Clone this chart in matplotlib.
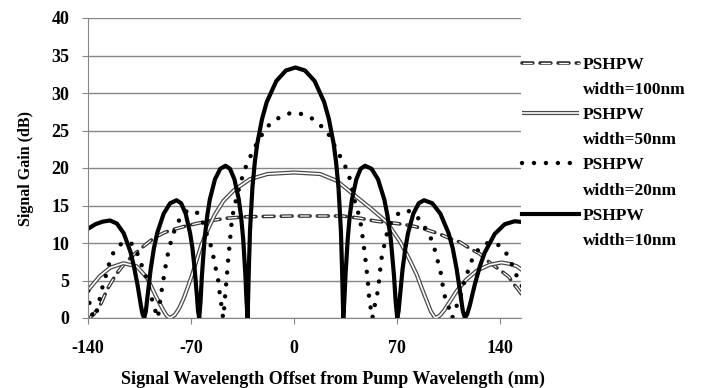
import matplotlib
matplotlib.use("Agg")
import matplotlib.pyplot as plt
from matplotlib.lines import Line2D

plt.rcParams["font.family"] = ["Liberation Serif", "DejaVu Serif"]
plt.rcParams["font.weight"] = "bold"
plt.rcParams["lines.scale_dashes"] = False
plt.rcParams["axes.unicode_minus"] = False

# ---------------------------------------------------------------------------
# Data (signal wavelength offset in nm, gain in dB)
# ---------------------------------------------------------------------------
x100 = [-139, -136, -131, -127, -121, -115, -108, -102, -95, -88, -82, -73,
        -59, -46, -32, 0, 33, 45, 56, 70, 80, 88, 99, 106, 113, 120, 126,
        133, 142, 146, 149, 152, 155]
g100 = [0, 0.5, 2.0, 3.8, 5.8, 7.3, 8.6, 9.6, 10.7, 11.4, 11.8, 12.3,
        12.9, 13.3, 13.5, 13.6, 13.6, 13.3, 12.9, 12.6, 12.3, 11.9, 11.2,
        10.6, 10.1, 9.2, 8.6, 7.4, 6.1, 5.5, 4.6, 3.9, 3.1]

x50 = [-140, -138.7, -131.9, -125, -116, -107, -100, -93.3, -89, -86.5,
       -84.3, -81, -78, -75, -72, -69, -66, -63, -59, -54, -48, -41, -30,
       -18, 0, 17.7, 29, 40.3, 51.7, 63, 72, 78, 83.4, 87, 90.2, 93, 96, 99,
       102, 106, 110.6, 117, 124.2, 133, 141, 147, 151.4, 155]
g50 = [3.6, 4.0, 5.6, 6.7, 7.3, 6.9, 5.4, 2.7, 1.1, 0.3,
       0, 0.4, 1.3, 2.6, 4.2, 5.9, 7.8, 9.7, 11.6, 13.7, 15.6, 17.0, 18.5,
       19.2, 19.4, 19.2, 18.3, 16.5, 14.7, 12.8, 10.2, 8.0, 5.8, 3.9, 2.3,
       0.9, 0, 0.3, 1.0, 2.2, 3.6, 5.1, 6.3, 7.1, 7.4, 7.2, 6.9, 6.4]

x20 = [-140, -139, -137.5, -135.5, -133.5, -131.9, -130.5, -127.8, -124.4,
       -121, -116, -110.8, -107.5, -104.7, -102.4, -100.1, -97.9, -95.6,
       -93.3, -92.5, -91.5, -90, -88.2, -86.5, -84.5, -81, -77, -72, -68,
       -64, -61, -58.3, -56, -54.9, -53.7, -52.5, -51.4, -50.7, -50.3, -49.2,
       -48.5, -48.2, -47.5, -46.9, -45.7, -44.7, -43.5, -42.4, -41.3, -39,
       -36.2, -33.3, -30, -27.2, -24.3, -18.2, -12.9, -7.3, -1.2, 5.2, 11.6,
       16.5, 22.2, 27.2, 30.1, 33.5, 35.8, 37.6, 39.5, 41.5, 43.3, 44.9, 46,
       46.7, 47.6, 48.7, 49.4, 50.1, 50.5, 51, 51.7, 52.8, 53.3, 54, 55,
       56.2, 57.3, 58.5, 59.1, 60.7, 62.3, 65.3, 69, 72.1, 76, 80, 84, 87.5,
       92.9, 95.2, 97, 98.1, 99.7, 100.4, 101.5, 102.7, 104.9, 106.5, 107.5,
       108.5, 110.5, 112.8, 116, 119.6, 122, 125.3, 129, 133, 137.8, 142.3,
       146.4, 150.9, 153.6, 155]
g20 = [3.6, 2.0, 0.6, 0, 1.2, 2.7, 3.9, 5.7, 8.1,
       9.3, 10.1, 10.0, 9.2, 7.6, 6.5, 5.2, 3.6, 1.8,
       0.4, 0, 1.5, 3.6, 5.8, 7.8, 9.6, 11.8, 13.5, 14.4, 14.3,
       13.8, 12.3, 10.5, 9.4, 8.3, 7.0, 6.1, 4.9, 3.8, 2.7, 1.6,
       0.5, 0, 1.2, 2.7, 5.4, 7.8, 10.3, 12.7, 14.1, 16.1,
       18.1, 19.9, 21.4, 22.5, 23.7, 25.5, 26.4, 27.0, 27.4, 27.2, 26.7,
       25.9, 25.0, 23.1, 22.0, 20.8, 19.8, 18.8, 17.2, 15.4, 14.3, 13.0, 11.9,
       10.7, 9.4, 7.6, 6.3, 5.2, 4.1, 2.9, 1.8, 0.6, 0, 0.8, 1.8,
       2.7, 4.1, 6.1, 7.6, 9.0, 10.7, 12.5, 13.6, 14.1, 14.4, 14.1, 13.4, 12.6,
       10.7, 9.4, 8.3, 7.2, 6.1, 4.9, 4.1, 2.7, 1.6, 0.5, 0,
       0.5, 1.6, 2.7, 5.0, 7.0, 8.3, 9.1, 9.8, 10.1, 9.9, 9.2,
       8.0, 5.8, 4.9, 4.2]

x10 = [-140, -135, -130, -125, -120.4, -115.7, -111.1, -108.8, -106.4,
       -104.1, -102.9, -101.8, -100.7, -99.6, -97.4, -95.2, -93, -88.6,
       -84.2, -79.8, -76.7, -73.6, -70.6, -69, -67.5, -65.9, -65.2, -64.4,
       -63.5, -62.6, -60.8, -59, -57.2, -53.7, -50.1, -46.5, -43.5, -40.5,
       -37.5, -36, -34.5, -33, -32.25, -31.5, -30.7, -29.9, -28.25, -26.6,
       -25, -21.75, -18.5, -12, -5.5, 1, 7.5, 14, 20.5, 23.75, 27, 28.6,
       30.25, 31.9, 32.7, 33.5, 34.2, 35, 36.5, 37.9, 39.4, 42.4, 45.3, 48.3,
       52.7, 57.1, 61.4, 63.6, 65.8, 68, 69.1, 70.2, 71.1, 72, 73.8, 75.7,
       77.5, 81.1, 84.8, 88.4, 94, 99.5, 105.1, 107.9, 110.6, 113.4, 114.8,
       116.2, 117.7, 119.4, 122.8, 126.2, 129.6, 136.4, 143.2, 150, 155]
g10 = [11.9, 12.5, 12.85, 13.0, 12.6, 11.3, 8.8, 6.9, 4.5,
       1.7, 0.5, 0, 0.9, 2.8, 6.5, 9.3, 11.3, 13.9,
       15.3, 15.7, 15.3, 13.9, 11.3, 9.3, 6.5, 2.8, 0.9, 0,
       2.2, 5.6, 10.5, 13.6, 15.8, 18.5, 19.9, 20.3, 19.9, 18.5,
       15.8, 13.6, 10.5, 5.6, 2.2, 0, 6.4, 11.6, 17.4, 20.8,
       23.2, 26.5, 28.8, 31.6, 33.0, 33.4, 33.0, 31.6, 28.8, 26.5, 23.2, 20.8,
       17.4, 11.6, 6.4, 0, 2.2, 5.6, 10.5, 13.6, 15.8, 18.5, 19.9, 20.3,
       19.9, 18.5, 15.8, 13.6, 10.5, 5.6, 2.2, 0, 0.9, 2.8, 6.5, 9.3,
       11.3, 13.9, 15.3, 15.7, 15.3, 13.9, 11.3, 9.3, 6.5, 2.8, 0.9,
       0, 0.5, 1.6, 4.4, 6.8, 8.7, 11.2, 12.5, 12.9, 12.8]

xticks = [-140, -70, 0, 70, 140]
yticks = [0, 5, 10, 15, 20, 25, 30, 35, 40]
labels = ["PSHPW", "width=100nm", "PSHPW", "width=50nm",
          "PSHPW", "width=20nm", "PSHPW", "width=10nm"]

# ---------------------------------------------------------------------------
# Line styles
# ---------------------------------------------------------------------------
dash_out = dict(color="#333333", lw=2.6, ls=(0, (7.8, 5.2)),
                dash_capstyle="round")
dash_in = dict(color="white", lw=0.9, ls=(12.2, (6.2, 6.8)),
               dash_capstyle="round")
dbl_out = dict(color="#4a4a4a", lw=3.0, solid_capstyle="butt")
dbl_in = dict(color="white", lw=1.2, solid_capstyle="butt")
dot_st = dict(color="black", lw=3.2, ls=(0, (0.01, 8.6)),
              dash_capstyle="round")
sol_st = dict(color="black", lw=3.0, solid_joinstyle="round")

fig = plt.figure(figsize=(7.03, 3.88), dpi=100)
ax = fig.add_axes([88 / 703, 70 / 388, 433 / 703, 300 / 388])

ax.plot(x100, g100, **dash_out)
ax.plot(x100, g100, **dash_in)
ax.plot(x50, g50, **dbl_out)
ax.plot(x50, g50, **dbl_in)
ax.plot(x20, g20, **dot_st)
ax.plot(x10, g10, **sol_st)

ax.set_xlim(-140, 154.3)
ax.set_ylim(0, 40)
ax.set_xticks(xticks)
ax.set_yticks(yticks)
ax.grid(axis="y", color="#868686", lw=1)
ax.set_axisbelow(True)
for side in ["top", "right"]:
    ax.spines[side].set_visible(False)
for side in ["left", "bottom"]:
    ax.spines[side].set_color("#868686")
ax.tick_params(axis="both", direction="out", length=4.5, color="#868686",
               labelsize=13)
ax.tick_params(axis="y", pad=9)
ax.tick_params(axis="x", pad=11)

ax.set_ylabel("Signal Gain (dB)", fontsize=11.5, fontweight="bold")
ax.yaxis.set_label_coords(-0.125, 0.5)
ax.set_xlabel("Signal Wavelength Offset from Pump Wavelength (nm)",
              fontsize=13, fontweight="bold")
ax.xaxis.set_label_coords(0.566, -0.175)

# legend: handle on the first line of each entry only
blank = Line2D([], [], ls="none")
handles = [
    (Line2D([], [], **dash_out), Line2D([], [], **dash_in)), blank,
    (Line2D([], [], **dbl_out), Line2D([], [], **dbl_in)), blank,
    Line2D([], [], **dot_st), blank,
    Line2D([], [], **sol_st), blank,
]
fig.legend(handles, labels, loc="upper left",
           bbox_to_anchor=(522 / 703, 1 - 56.5 / 388), frameon=False,
           borderpad=0, borderaxespad=0, handlelength=3.3,
           handletextpad=0.2, labelspacing=0.52,
           prop={"size": 12.5, "weight": "bold"})

fig.savefig("out.png", dpi=100)
